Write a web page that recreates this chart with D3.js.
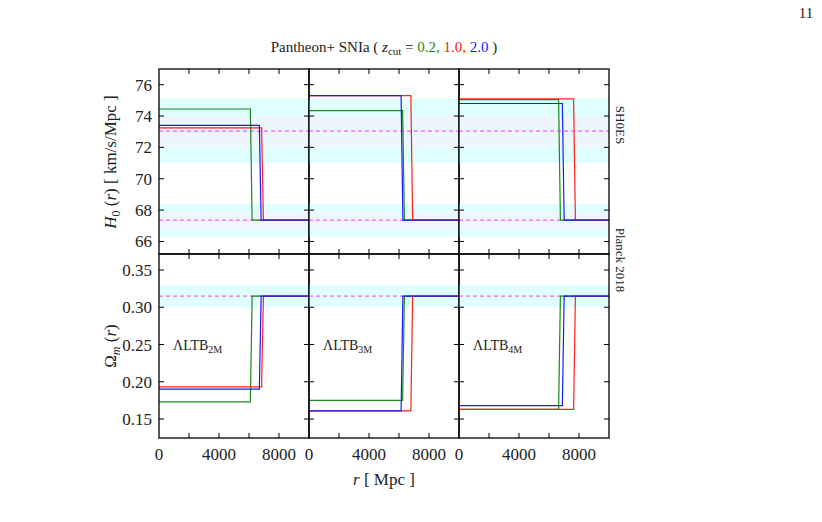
<!DOCTYPE html>
<html lang="en">
<head>
<meta charset="UTF-8"/>
<title>LTB H0 and Omega_m profiles</title>
<script src="https://d3js.org/d3.v7.min.js"></script>
<style>
body { margin:0; background:#fff; }
text { font-family: "Liberation Serif", serif; fill:#222; }
</style>
</head>
<body>
<script>
// step profiles: [inner value, transition radius (Mpc)] per zcut, per model
var models = ["2M", "3M", "4M"];
var zcuts = ["0.2", "1.0", "2.0"];
var colors = ["#1a8a1a", "#ff2020", "#1a1aff"];
var h0Inner = [[74.45, 73.25, 73.4], [74.35, 75.3, 75.3], [75.05, 75.1, 74.8]];
var omInner = [[0.173, 0.193, 0.190], [0.175, 0.161, 0.161], [0.163, 0.163, 0.168]];
var rStep = [[6150, 6900, 6750], [6300, 6850, 6200], [6700, 7700, 6950]];
var h0Out = 67.36, omOut = 0.315;
var shoes = 73.04, shoesBand = [71.0, 75.1], shoesInner = [72.0, 74.0];
var planckBand = [66.3, 68.4], planckInner = [66.8, 67.9];
var omBand = [0.30, 0.33];
var h0Ticks = [66, 68, 70, 72, 74, 76];
var omTicks = [0.15, 0.20, 0.25, 0.30, 0.35];
var rTicks = [0, 4000, 8000];

var W = 822, H = 522;
var svg = d3.select("body").append("svg").attr("width", W).attr("height", H);
var left = 159, pw = 150, top1 = 69, ph1 = 185, top2 = 254, ph2 = 184;

var x = d3.scaleLinear().domain([0, 10000]);
var yH = d3.scaleLinear().domain([65.2, 77]).range([top1 + ph1, top1]);
var yO = d3.scaleLinear().domain([0.1245, 0.3715]).range([top2 + ph2, top2]);

function band(g, y, b, col) {
  g.append("rect").attr("x", 0).attr("width", pw)
    .attr("y", y(b[1])).attr("height", y(b[0]) - y(b[1])).attr("fill", col);
}
function dashed(g, y, v) {
  g.append("line").attr("x1", 0).attr("x2", pw).attr("y1", y(v)).attr("y2", y(v))
    .attr("stroke", "#ff33ff").attr("stroke-width", 1).attr("stroke-dasharray", "4,3");
}
function steps(g, y, inner, out, m) {
  var line = d3.line().x(function(d){ return x(d[0]); }).y(function(d){ return y(d[1]); });
  for (var k = 0; k < 3; k++) {
    var r = rStep[m][k];
    var pts = [[0, inner[m][k]], [r - 60, inner[m][k]], [r + 60, out], [10000, out]];
    g.append("path").attr("d", line(pts)).attr("fill", "none")
      .attr("stroke", colors[k]).attr("stroke-width", 1.2);
  }
}
function frame(g, y, ticks, minor, h, showY, showX) {
  var tl = 5;
  minor.forEach(function(v){
    g.append("line").attr("x1", 0).attr("x2", tl).attr("y1", y(v)).attr("y2", y(v)).attr("stroke", "#000");
    g.append("line").attr("x1", pw).attr("x2", pw - tl).attr("y1", y(v)).attr("y2", y(v)).attr("stroke", "#000");
  });
  [2000, 4000, 6000, 8000].forEach(function(v){
    g.append("line").attr("x1", x(v)).attr("x2", x(v)).attr("y1", 0).attr("y2", tl).attr("stroke", "#000");
    g.append("line").attr("x1", x(v)).attr("x2", x(v)).attr("y1", h).attr("y2", h - tl).attr("stroke", "#000");
  });
  g.append("rect").attr("width", pw).attr("height", h).attr("fill", "none")
    .attr("stroke", "#000").attr("stroke-width", 1.3);
  if (showY) {
    ticks.forEach(function(v){
      g.append("text").attr("x", -7).attr("y", y(v) + 6).attr("text-anchor", "end")
        .attr("font-size", 17).text(y === yO ? v.toFixed(2) : v);
    });
  }
  if (showX) {
    rTicks.forEach(function(v){
      g.append("text").attr("x", x(v)).attr("y", h + 22).attr("text-anchor", "middle")
        .attr("font-size", 17).text(v);
    });
  }
}

x.range([0, pw]);
models.forEach(function(mod, m) {
  var g1 = svg.append("g").attr("transform", "translate(" + (left + m * pw) + ",0)");
  band(g1, yH, shoesBand, "#e0ffff"); band(g1, yH, shoesInner, "#edf5ff");
  band(g1, yH, planckBand, "#e0ffff"); band(g1, yH, planckInner, "#edf5ff");
  dashed(g1, yH, shoes); dashed(g1, yH, h0Out);
  steps(g1, yH, h0Inner, h0Out, m);
  var f1 = svg.append("g").attr("transform", "translate(" + (left + m * pw) + "," + top1 + ")");
  var yH0 = yH.copy().range([ph1, 0]);
  frame(f1, yH0, h0Ticks, h0Ticks, ph1, false, false);
  if (m === 0) h0Ticks.forEach(function(v){
    svg.append("text").attr("x", left - 7).attr("y", yH(v) + 6).attr("text-anchor", "end")
      .attr("font-size", 17).text(v);
  });

  var g2 = svg.append("g").attr("transform", "translate(" + (left + m * pw) + ",0)");
  band(g2, yO, omBand, "#e0ffff");
  dashed(g2, yO, omOut);
  steps(g2, yO, omInner, omOut, m);
  var f2 = svg.append("g").attr("transform", "translate(" + (left + m * pw) + "," + top2 + ")");
  var yO0 = yO.copy().range([ph2, 0]);
  frame(f2, yO0, omTicks, omTicks, ph2, false, true);
  if (m === 0) omTicks.forEach(function(v){
    svg.append("text").attr("x", left - 7).attr("y", yO(v) + 6).attr("text-anchor", "end")
      .attr("font-size", 17).text(v.toFixed(2));
  });

  var lab = svg.append("text").attr("x", left + m * pw + 14).attr("y", yO(0.25) + 5).attr("font-size", 14);
  lab.append("tspan").text("\u039BLTB");
  lab.append("tspan").attr("font-size", 10).attr("dy", 3).text(mod);
});

// title
var t = svg.append("text").attr("x", 384).attr("y", 52).attr("text-anchor", "middle").attr("font-size", 15);
t.append("tspan").text("Pantheon+ SNIa ( ");
t.append("tspan").attr("font-style", "italic").text("z");
t.append("tspan").attr("font-size", 11).attr("dy", 3).text("cut");
t.append("tspan").attr("dy", -3).text(" = ");
zcuts.forEach(function(z, k){
  t.append("tspan").attr("fill", colors[k]).text(z + (k < 2 ? ", " : ""));
});
t.append("tspan").text(" )");

svg.append("text").attr("x", 806).attr("y", 18).attr("text-anchor", "middle").attr("font-size", 15).text("11");

// axis labels
var yl = svg.append("text").attr("transform", "translate(116,162) rotate(-90)")
  .attr("text-anchor", "middle").attr("font-size", 17);
yl.append("tspan").attr("font-style", "italic").text("H");
yl.append("tspan").attr("font-size", 12).attr("dy", 4).text("0");
yl.append("tspan").attr("dy", -4).text(" (");
yl.append("tspan").attr("font-style", "italic").text("r");
yl.append("tspan").text(")  [ km/s/Mpc ]");

var ol = svg.append("text").attr("transform", "translate(116,346) rotate(-90)")
  .attr("text-anchor", "middle").attr("font-size", 17);
ol.append("tspan").text("\u03A9");
ol.append("tspan").attr("font-size", 12).attr("font-style", "italic").attr("dy", 4).text("m");
ol.append("tspan").attr("dy", -4).text(" (");
ol.append("tspan").attr("font-style", "italic").text("r");
ol.append("tspan").text(")");

var xl = svg.append("text").attr("x", 384).attr("y", 485).attr("text-anchor", "middle").attr("font-size", 17);
xl.append("tspan").attr("font-style", "italic").text("r");
xl.append("tspan").text(" [ Mpc ]");

svg.append("text").attr("transform", "translate(616,125) rotate(90)")
  .attr("text-anchor", "middle").attr("font-size", 13).text("SH0ES");
svg.append("text").attr("transform", "translate(616,260) rotate(90)")
  .attr("text-anchor", "middle").attr("font-size", 13).text("Planck 2018");
</script>
</body>
</html>
